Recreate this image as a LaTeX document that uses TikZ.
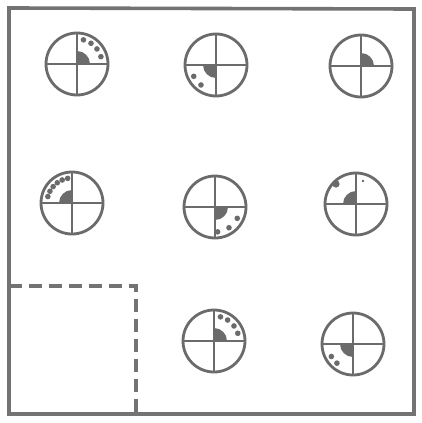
\documentclass[tikz,border=0pt]{standalone}
\begin{document}
\begin{tikzpicture}[x=1pt,y=-1pt,
  ink/.style={draw=black!58,line width=2.8pt},
  blob/.style={fill=black!58},
  frame/.style={draw=black!55,line width=3.6pt},
  dashline/.style={draw=black!55,line width=3.6pt,dash pattern=on 13pt off 7pt}]
\useasboundingbox (0,0) rectangle (421,423);
\fill[white] (0,0) rectangle (421,423);
% frame
\coordinate (tl) at (9,8);
\coordinate (tr) at (414,9);
\coordinate (br) at (414,414);
\coordinate (bl) at (9,414);
\draw[frame] (tl) -- (tr) -- (br) -- (bl) -- cycle;
% dashed square
\coordinate (d1) at (9,286);
\coordinate (d2) at (136,286);
\coordinate (d3) at (136,414);
\draw[dashline] (d1) -- (d2) -- (d3);
% target macro: centre x, centre y, start angle of quarter disc, dot angles
\newcommand{\target}[4]{%
  \begin{scope}[shift={(#1,#2)}]
    \fill[blob] (0,0) -- ({13*cos(#3)},{-13*sin(#3)}) arc[start angle={-#3},end angle={-#3-90},radius=13] -- cycle;
    \foreach \a in {#4} {\fill[blob] ({25*cos(\a)},{-25*sin(\a)}) circle (2.8);}
    \draw[ink] (0,0) circle (31);
    \draw[ink] (-31,0) -- (31,0);
    \draw[ink] (0,-31) -- (0,31);
  \end{scope}}
\target{77}{64}{0}{75,56,37,17}
\target{216}{65}{180}{207,233}
\target{361}{66}{0}{}
\target{72}{203}{90}{100,113,126,139,152,165}
\target{215}{207}{270}{-27,-56,-84}
\target{356}{204}{90}{}
\fill[blob] (336,184) circle (3.6);
\fill[blob] (363,181) circle (1.3);
\target{214}{341}{0}{75,57,37,18}
\target{353}{344}{180}{210,230}
\end{tikzpicture}
\end{document}
